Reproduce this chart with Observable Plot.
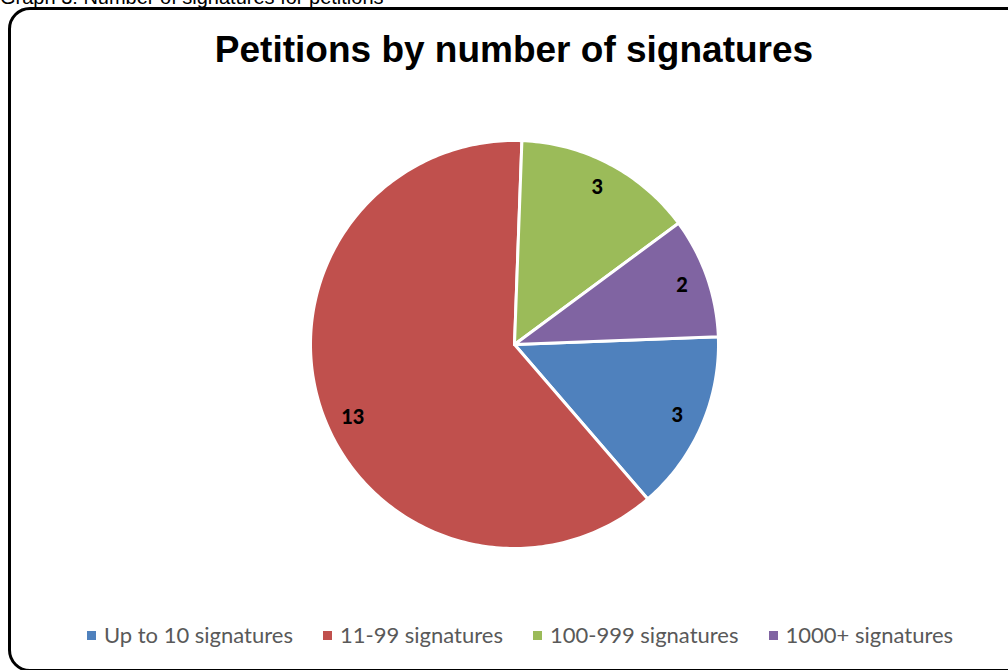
<!DOCTYPE html>
<html>
<head>
<meta charset="utf-8">
<script src="https://cdn.jsdelivr.net/npm/d3@7"></script>
<script src="https://cdn.jsdelivr.net/npm/@observablehq/plot@0.6"></script>
<style>
  html, body { margin: 0; padding: 0; background: #fff; }
  #page { position: relative; width: 1008px; height: 670px; overflow: hidden; }
  #caption { position: absolute; left: 0; top: -13px; font: 20px "Liberation Sans", Arial, sans-serif; line-height: 20px; color: #000; white-space: nowrap; }
  #frame { position: absolute; left: 8px; top: 7px; width: 1022px; height: 665px; box-sizing: border-box; border: 3px solid #000; border-radius: 22px; }
  #title { position: absolute; left: 0; width: 1028px; top: 28px; text-align: center; font: bold 37px "Liberation Sans", Arial, sans-serif; line-height: 44px; color: #000; }
  #chart { position: absolute; left: 0; top: 124px; }
  #legend { position: absolute; left: 0; top: 620px; width: 1040px; display: flex; justify-content: center; gap: 30px; font: 22px Lato, "Open Sans", sans-serif; color: #595959; line-height: 30px; }
  .item { display: flex; align-items: center; white-space: nowrap; }
  .sw { width: 9px; height: 9px; margin-right: 8px; }
</style>
</head>
<body>
<div id="page">
  <div id="caption">Graph 3: Number of signatures for petitions</div>
  <div id="frame"></div>
  <div id="title">Petitions by number of signatures</div>
  <div id="chart"></div>
  <div id="legend"></div>
</div>
<script>
const categories = ["Up to 10 signatures", "11-99 signatures", "100-999 signatures", "1000+ signatures"];
const values = [3, 13, 3, 2];
const colors = ["#4F81BD", "#C0504D", "#9BBB59", "#8064A2"];
const startAngle = 87.8; // degrees clockwise from 12 o'clock

const total = d3.sum(values);
const rad = Math.PI / 180;
const slices = [];
let acc = startAngle;
categories.forEach((c, i) => {
  const span = values[i] / total * 360;
  slices.push({category: c, value: values[i], a0: acc, a1: acc + span});
  acc += span;
});

const pts = [];
slices.forEach(s => {
  pts.push({category: s.category, x: 0, y: 0});
  const n = Math.max(2, Math.ceil(s.a1 - s.a0));
  for (let k = 0; k <= n; k++) {
    const a = (s.a0 + (s.a1 - s.a0) * k / n) * rad;
    pts.push({category: s.category, x: Math.sin(a), y: Math.cos(a)});
  }
});

// label placement: along each slice's middle angle, near the outer edge
const labelShift = [0, -5, 0, 0]; // degrees, Excel "best fit" nudge
const labels = slices.map((s, i) => {
  const a = ((s.a0 + s.a1) / 2 + labelShift[i]) * rad;
  return {label: String(s.value), x: 0.87 * Math.sin(a), y: 0.87 * Math.cos(a)};
});

const W = 1008, H = 440, R = 204, cx = 514, cy = 220;
const chart = Plot.plot({
  width: W,
  height: H,
  marginLeft: cx - R,
  marginRight: W - cx - R,
  marginTop: cy - R,
  marginBottom: H - cy - R,
  x: {domain: [-1, 1], axis: null},
  y: {domain: [-1, 1], axis: null},
  color: {domain: categories, range: colors},
  style: {background: "transparent", overflow: "visible"},
  marks: [
    Plot.line(pts, {x: "x", y: "y", z: "category", fill: "category", stroke: "#fff", strokeWidth: 3, curve: "linear-closed", strokeLinejoin: "round"}),
    Plot.text(labels, {x: "x", y: "y", text: "label", fontSize: 20, fontWeight: 900, fill: "#000", fontFamily: "Lato, 'Open Sans', sans-serif"})
  ]
});
document.getElementById("chart").appendChild(chart);

const legend = document.getElementById("legend");
categories.forEach((c, i) => {
  const it = document.createElement("div");
  it.className = "item";
  const sw = document.createElement("span");
  sw.className = "sw";
  sw.style.background = colors[i];
  const tx = document.createElement("span");
  tx.textContent = c;
  it.appendChild(sw); it.appendChild(tx);
  legend.appendChild(it);
});
</script>
</body>
</html>
